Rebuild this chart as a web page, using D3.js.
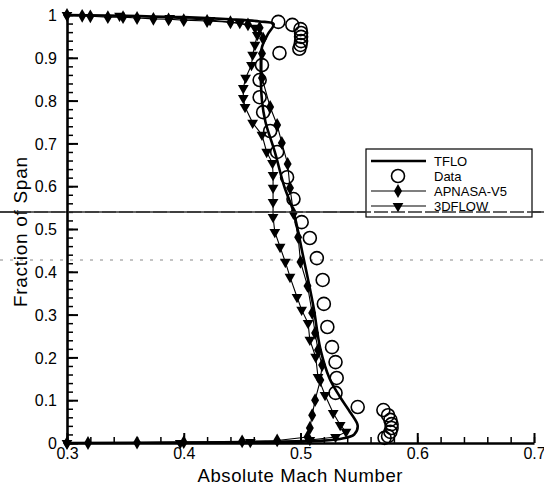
<!DOCTYPE html>
<html>
<head>
<meta charset="utf-8">
<script src="https://cdn.jsdelivr.net/npm/d3@7"></script>
<style>
  body { margin: 0; background: #fff; }
  svg { font-family: "Liberation Sans", Arial, sans-serif; }
</style>
</head>
<body>
<svg id="chart" width="544" height="487"></svg>
<script>
// TFLO solution (solid thick line) - [mach, span]
const tflo = [
  [0.300, 1.000], [0.400, 0.995], [0.440, 0.990], [0.465, 0.985], [0.477, 0.979],
  [0.472, 0.955], [0.467, 0.925], [0.466, 0.880], [0.467, 0.800], [0.470, 0.750],
  [0.478, 0.680], [0.486, 0.600], [0.494, 0.540], [0.502, 0.440], [0.511, 0.320],
  [0.517, 0.220], [0.525, 0.150], [0.534, 0.107], [0.543, 0.070], [0.549, 0.040],
  [0.546, 0.020], [0.535, 0.010], [0.515, 0.005], [0.480, 0.002], [0.400, 0.001],
  [0.300, 0.000]
];

// measured data (open circles)
const dataPts = [
  [0.481, 0.984], [0.493, 0.977], [0.500, 0.967], [0.5005, 0.958], [0.5005, 0.949],
  [0.5005, 0.939], [0.500, 0.930], [0.499, 0.921], [0.482, 0.911], [0.467, 0.883],
  [0.465, 0.848], [0.465, 0.808], [0.468, 0.773], [0.474, 0.729], [0.480, 0.680],
  [0.4885, 0.621], [0.494, 0.570], [0.501, 0.516], [0.508, 0.479], [0.514, 0.432],
  [0.519, 0.381], [0.520, 0.325], [0.523, 0.271], [0.527, 0.224], [0.530, 0.189],
  [0.531, 0.152], [0.530, 0.117], [0.549, 0.084], [0.571, 0.077], [0.575, 0.065],
  [0.577, 0.054], [0.578, 0.044], [0.578, 0.035], [0.577, 0.026], [0.575, 0.016],
  [0.572, 0.012]
];

// APNASA-V5 (thin line, filled diamonds)
const apnasa = [
  [0.300, 1.000], [0.313, 0.998], [0.320, 0.997], [0.335, 0.995], [0.348, 0.995],
  [0.360, 0.993], [0.374, 0.991], [0.387, 0.990], [0.400, 0.988], [0.420, 0.986],
  [0.440, 0.983], [0.455, 0.978], [0.465, 0.970], [0.468, 0.945], [0.467, 0.910],
  [0.467, 0.853], [0.474, 0.785], [0.480, 0.743], [0.484, 0.701], [0.489, 0.652],
  [0.491, 0.596], [0.494, 0.537], [0.498, 0.481], [0.500, 0.423], [0.506, 0.367],
  [0.510, 0.304], [0.5125, 0.257], [0.515, 0.217], [0.5185, 0.182], [0.517, 0.147],
  [0.5125, 0.100], [0.510, 0.065], [0.508, 0.035], [0.506, 0.014], [0.480, 0.006],
  [0.450, 0.004], [0.400, 0.002], [0.360, 0.001], [0.318, 0.000], [0.300, 0.000]
];

// 3DFLOW (thin line, filled down triangles)
const flow3d = [
  [0.300, 1.000], [0.345, 0.998], [0.388, 0.993], [0.4225, 0.988], [0.448, 0.981],
  [0.461, 0.970], [0.463, 0.953], [0.461, 0.930], [0.459, 0.907], [0.458, 0.883],
  [0.453, 0.853], [0.451, 0.829], [0.451, 0.806], [0.4525, 0.785], [0.459, 0.748],
  [0.467, 0.720], [0.471, 0.680], [0.476, 0.654], [0.4765, 0.626], [0.4765, 0.596],
  [0.4765, 0.563], [0.4765, 0.528], [0.478, 0.493], [0.4825, 0.458], [0.487, 0.423],
  [0.491, 0.388], [0.497, 0.341], [0.501, 0.311], [0.5065, 0.280], [0.508, 0.241],
  [0.513, 0.201], [0.515, 0.154], [0.521, 0.112], [0.528, 0.070], [0.534, 0.042],
  [0.539, 0.026], [0.530, 0.014], [0.508, 0.007], [0.457, 0.002], [0.397, 0.000],
  [0.300, 0.000]
];

const xTicks = [0.3, 0.4, 0.5, 0.6, 0.7];
const yTicks = [0, 0.1, 0.2, 0.3, 0.4, 0.5, 0.6, 0.7, 0.8, 0.9, 1];
const legendNames = ['TFLO', 'Data', 'APNASA-V5', '3DFLOW'];

const svg = d3.select('#chart');
const x = d3.scaleLinear().domain([0.3, 0.7]).range([67, 534]);
const y = d3.scaleLinear().domain([0, 1]).range([443, 15]);

// scan streaks across the page
svg.append('line')
  .attr('x1', 0).attr('x2', 544).attr('y1', 212).attr('y2', 212)
  .attr('stroke', '#333').attr('stroke-width', 1.3);
svg.append('line')
  .attr('x1', 0).attr('x2', 544).attr('y1', 260).attr('y2', 260)
  .attr('stroke', '#888').attr('stroke-width', 1).attr('stroke-dasharray', '3,7');

// minor ticks
const minorY = d3.range(0, 1.0001, 0.02);
const minorX = d3.range(0.3, 0.7001, 0.02);
svg.append('g')
  .attr('transform', `translate(${x(0.3)},0)`)
  .call(d3.axisLeft(y).tickValues(minorY).tickSize(-6).tickSizeOuter(0).tickFormat(''))
  .call((g) => g.select('.domain').remove())
  .selectAll('line').attr('stroke-width', 1.5);
svg.append('g')
  .attr('transform', `translate(0,${y(0)})`)
  .call(d3.axisBottom(x).tickValues(minorX).tickSize(-6).tickSizeOuter(0).tickFormat(''))
  .call((g) => g.select('.domain').remove())
  .selectAll('line').attr('stroke-width', 1.5);

// major axes
const yAxis = svg.append('g')
  .attr('transform', `translate(${x(0.3)},0)`)
  .call(d3.axisLeft(y).tickValues(yTicks).tickSize(-11).tickSizeOuter(0).tickPadding(10)
    .tickFormat((d) => (d === 0 || d === 1 ? d3.format('d')(d) : d3.format('.1f')(d))));
const xAxis = svg.append('g')
  .attr('transform', `translate(0,${y(0)})`)
  .call(d3.axisBottom(x).tickValues(xTicks).tickSize(-10).tickSizeOuter(0).tickPadding(5)
    .tickFormat(d3.format('.1f')));
[yAxis, xAxis].forEach((g) => {
  g.select('.domain').attr('stroke-width', 2.6);
  g.selectAll('.tick line').attr('stroke-width', 2);
  g.selectAll('text').attr('font-size', 16).attr('fill', '#000')
    .attr('font-family', '"Liberation Sans", Arial, sans-serif');
});
yAxis.selectAll('text').attr('dy', '0.36em');

// axis titles
svg.append('text')
  .attr('x', 300).attr('y', 482)
  .attr('text-anchor', 'middle')
  .attr('font-size', 18.5)
  .attr('textLength', 205)
  .text('Absolute Mach Number');
svg.append('text')
  .attr('transform', 'translate(27,232) rotate(-90)')
  .attr('text-anchor', 'middle')
  .attr('font-size', 19)
  .attr('textLength', 150)
  .text('Fraction of Span');

const line = d3.line().x((d) => x(d[0])).y((d) => y(d[1]));
const diamond = d3.symbol().type(d3.symbolDiamond).size(55);
const tri = d3.symbol().type(d3.symbolTriangle).size(50);

// series lines
svg.append('path').datum(apnasa)
  .attr('d', line).attr('fill', 'none').attr('stroke', '#000').attr('stroke-width', 1.1);
svg.append('path').datum(flow3d)
  .attr('d', line).attr('fill', 'none').attr('stroke', '#000').attr('stroke-width', 1.1);
svg.append('path').datum(tflo)
  .attr('d', line.curve(d3.curveCatmullRom)).attr('fill', 'none')
  .attr('stroke', '#000').attr('stroke-width', 2.6);
line.curve(d3.curveLinear);

// markers
svg.append('g').selectAll('path').data(apnasa).join('path')
  .attr('d', diamond)
  .attr('transform', (d) => `translate(${x(d[0])},${y(d[1])})`)
  .attr('fill', '#000');
svg.append('g').selectAll('path').data(flow3d).join('path')
  .attr('d', tri)
  .attr('transform', (d) => `translate(${x(d[0])},${y(d[1])}) rotate(180)`)
  .attr('fill', '#000');
svg.append('g').selectAll('circle').data(dataPts).join('circle')
  .attr('cx', (d) => x(d[0])).attr('cy', (d) => y(d[1]))
  .attr('r', 6.5).attr('fill', 'none').attr('stroke', '#000').attr('stroke-width', 1.6);

// legend
const lg = svg.append('g');
lg.append('rect')
  .attr('x', 366).attr('y', 149).attr('width', 166).attr('height', 68)
  .attr('fill', '#fff').attr('stroke', '#000').attr('stroke-width', 1.2);
lg.append('line')
  .attr('x1', 0).attr('x2', 544).attr('y1', 212).attr('y2', 212)
  .attr('stroke', '#333').attr('stroke-width', 1.3).attr('stroke-dasharray', '14,3');
const rowY = [161, 176, 191, 206];
legendNames.forEach((name, i) => {
  const ry = rowY[i];
  if (i !== 1) {
    lg.append('line')
      .attr('x1', 371).attr('x2', 426).attr('y1', ry).attr('y2', ry)
      .attr('stroke', '#000').attr('stroke-width', i === 0 ? 2.6 : 1.1);
  }
  if (i === 1) {
    lg.append('circle').attr('cx', 398).attr('cy', ry).attr('r', 6.5)
      .attr('fill', 'none').attr('stroke', '#000').attr('stroke-width', 1.6);
  } else if (i === 2) {
    lg.append('path').attr('d', diamond).attr('transform', `translate(398,${ry})`);
  } else if (i === 3) {
    lg.append('path').attr('d', tri).attr('transform', `translate(398,${ry}) rotate(180)`);
  }
  lg.append('text')
    .attr('x', 434).attr('y', ry).attr('dy', '0.36em')
    .attr('font-size', 13)
    .text(name);
});
</script>
</body>
</html>
